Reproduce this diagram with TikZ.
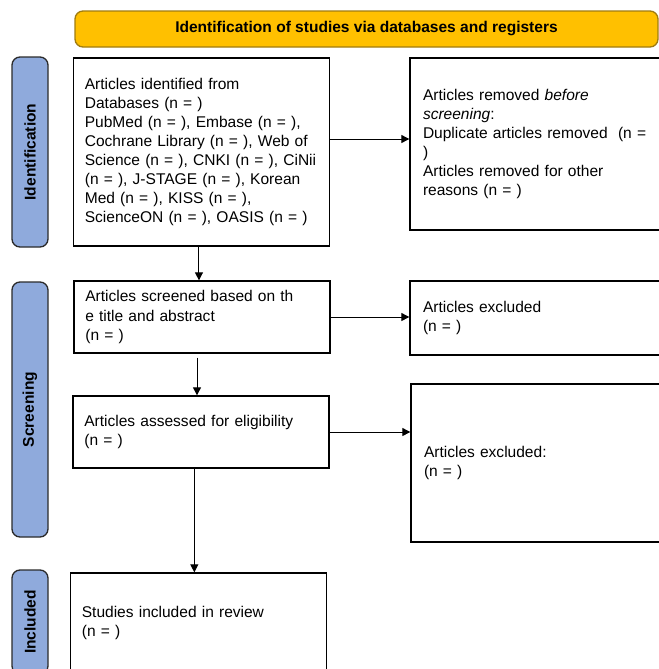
\documentclass[tikz,border=0pt]{standalone}
\usepackage{fontspec}
\setmainfont{Liberation Sans}
\usetikzlibrary{arrows.meta,positioning}
\definecolor{headgold}{HTML}{FFC000}
\definecolor{headedge}{HTML}{A07C10}
\definecolor{sideblue}{HTML}{8FAADC}
\definecolor{sideedge}{HTML}{2B2B2B}
\newcommand{\boxfont}{\fontsize{11.65}{14.3}\selectfont}

\begin{document}
\begin{tikzpicture}[x=0.75pt,y=-0.75pt,>={Triangle[length=6pt,width=6pt]},
stage/.style={draw, line width=1pt, inner ysep=0pt, align=left, font=\boxfont},
leftbox/.style={stage, inner xsep=8.5pt, text width=175pt},
rightbox/.style={stage, inner xsep=9.75pt, text width=198pt},
phase/.style={draw=sideedge, fill=sideblue, line width=1pt, rounded corners=6pt, minimum height=27pt, rotate=90, font=\boxfont\bfseries}]
\useasboundingbox (0,0) rectangle (659,669);

\node[draw=headedge, fill=headgold, line width=1pt, rounded corners=6pt, minimum width=437.25pt, minimum height=27pt, font=\boxfont\bfseries] (head) at (366.5,29) {Identification of studies via databases and registers};

% phases on the left
\node[phase, minimum width=142.5pt] (p_id) at (30,152) {Identification};
\node[phase, minimum width=191.25pt] (p_scr) at (30,409.5) {Screening};
\node[phase, minimum width=78pt] (p_inc) at (30,622) {Included};

% main column
\node[leftbox, minimum height=141pt] (found) at (201.5,152) {Articles identified from\\
Databases (n = )\\
PubMed (n = ), Embase (n = ),\\
Cochrane Library (n = ), Web of\\
Science (n = ), CNKI (n = ), CiNii\\
(n = ), J-STAGE (n = ), Korean\\
Med (n = ), KISS (n = ),\\
ScienceON (n = ), OASIS (n = )};
\node[leftbox, minimum height=54pt] (screened) at (202,317) {Articles screened based on th\\
e title and abstract\\
(n = )};
\node[leftbox, minimum height=54pt] (assessed) at (201,432) {Articles assessed for eligibility\\
(n = )};
\node[leftbox, minimum height=75pt] (included) at (198.5,623) {Studies included in review\\
(n = )};

% side column
\node[rightbox, minimum height=129pt] (removed) at (555,144) {Articles removed \textit{before}\\
\textit{screening}:\\
Duplicate articles removed~~(n =\\
)\\
Articles removed for other\\
reasons (n = )};
\node[rightbox, minimum height=55.5pt] (dropped) at (555,318) {Articles excluded\\
(n = )};
\node[rightbox, minimum height=118.5pt] (excluded) at (556,463) {Articles excluded:\\
(n = )};

\begin{scope}[->, line width=0.75pt]
\draw ([yshift=9.75pt]found.east) -- ([yshift=9.75pt]found.east -| removed.west);
\draw (screened.east) -- (screened.east -| dropped.west);
\draw (assessed.east) -- (assessed.east -| excluded.west);
\draw ([xshift=-1.9pt]found.south) -- ([xshift=-1.9pt]found.south |- screened.north);
\draw ([xshift=-3.75pt,yshift=-3pt]screened.south) -- ([xshift=-3.75pt]screened.south |- assessed.north);
\draw ([xshift=-5pt]assessed.south) -- ([xshift=-5pt]assessed.south |- included.north);
\end{scope}
\end{tikzpicture}
\end{document}
